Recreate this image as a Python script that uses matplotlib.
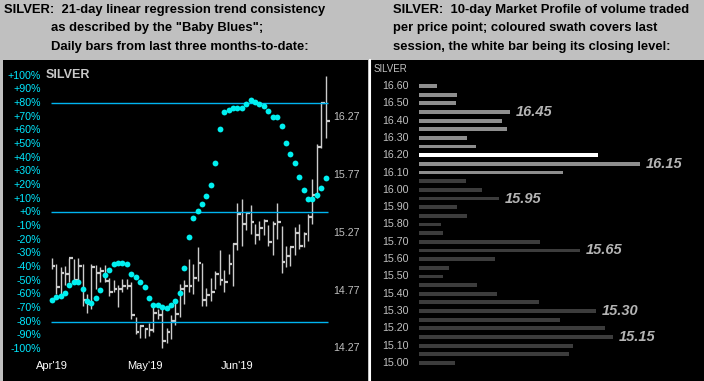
import matplotlib
matplotlib.use("Agg")
import matplotlib.pyplot as plt

W, H = 704, 381
GRAY = "#c0c0c0"
FONT = "Liberation Sans"

# --- left panel data: daily bars (price) + "Baby Blues" trend consistency (%) ---
highs = [15.05, 15.00, 14.97, 14.98, 15.05, 15.04, 15.05, 15.00, 14.74, 15.00,
         14.99, 14.97, 14.99, 14.88, 14.86, 14.82, 14.87, 14.87, 14.84, 14.54,
         14.47, 14.45, 14.49, 14.64, 14.61, 14.64, 14.45, 14.56, 14.68, 14.83,
         14.86, 15.04, 15.00, 15.15, 15.01, 14.79, 14.88, 14.94, 15.12, 14.95,
         15.09, 15.18, 15.53, 15.56, 15.45, 15.51, 15.35, 15.37, 15.39, 15.34,
         15.37, 15.53, 15.33, 15.16, 15.15, 15.32, 15.35, 15.28, 15.43, 15.74,
         16.04, 16.40, 16.63]
lows = [14.96, 14.74, 14.72, 14.82, 14.84, 14.85, 14.84, 14.64, 14.58, 14.61,
        14.78, 14.84, 14.84, 14.72, 14.76, 14.63, 14.76, 14.78, 14.52, 14.39,
        14.36, 14.36, 14.38, 14.41, 14.52, 14.27, 14.32, 14.35, 14.47, 14.54,
        14.65, 14.76, 14.74, 14.85, 14.64, 14.64, 14.68, 14.78, 14.82, 14.76,
        14.91, 14.81, 15.12, 15.16, 15.29, 15.26, 15.17, 15.21, 15.25, 15.16,
        15.08, 15.22, 14.92, 14.97, 14.98, 15.08, 15.13, 15.15, 15.20, 15.35,
        15.57, 16.00, 16.09]
closes = [14.98, 14.80, 14.92, 14.91, 15.05, 14.86, 14.98, 14.69, 14.65, 14.97,
          14.92, 14.94, 14.85, 14.76, 14.78, 14.78, 14.81, 14.81, 14.56, 14.41,
          14.46, 14.44, 14.43, 14.58, 14.56, 14.33, 14.41, 14.51, 14.57, 14.78,
          14.81, 14.81, 14.88, 15.01, 14.69, 14.73, 14.76, 14.91, 14.86, 14.84,
          15.00, 15.17, 15.43, 15.35, 15.44, 15.36, 15.25, 15.31, 15.37, 15.19,
          15.35, 15.36, 15.02, 15.07, 15.15, 15.27, 15.16, 15.26, 15.41, 15.60,
          16.01, 16.39, 16.24]
baby_blues = [-64, -62, -61, -59, -53, -51, -51, -56, -65, -66,
              -63, -57, -46, -42, -38, -37, -37, -38, -45, -47,
              -51, -55, -63, -68, -68, -69, -70, -68, -65, -59,
              -41, -18, -4, 1, 6, 12, 20, 36, 61, 73,
              75, 76, 76, 76, 79, 82, 81, 79, 78, 74,
              70, 70, 63, 51, 43, 36, 26, 16, 10, 10,
              13, 18, 25]
month_pos = [0, 21, 42]
month_labels = ["Apr'19", "May'19", "Jun'19"]
pct_ticks = list(range(-100, 101, 10))
price_ticks = [16.27, 15.77, 15.27, 14.77, 14.27]
ref_levels = [80, 0, -80]

# --- right panel data: 10-day market profile ---
mp_prices = [16.60, 16.55, 16.50, 16.45, 16.40, 16.35, 16.30, 16.25, 16.20, 16.15,
             16.10, 16.05, 16.00, 15.95, 15.90, 15.85, 15.80, 15.75, 15.70, 15.65,
             15.60, 15.55, 15.50, 15.45, 15.40, 15.35, 15.30, 15.25, 15.20, 15.15,
             15.10, 15.05, 15.00]
mp_volume = [18, 38, 37, 91, 83, 88, 48, 57, 179, 221,
             144, 47, 63, 80, 38, 48, 22, 24, 121, 161,
             76, 30, 24, 58, 78, 120, 177, 141, 186, 194,
             154, 150, 36]
session_lo, session_hi = 16.09, 16.63
last_close = 16.20
mp_callouts = [16.45, 16.15, 15.95, 15.65, 15.30, 15.15]

fig = plt.figure(figsize=(W / 100, H / 100), dpi=100, facecolor=GRAY)

def px(x, y):
    return x / W, 1 - y / H

# titles
t_kw = dict(fontsize=9.4, fontweight="bold", family=FONT, color="black", va="center")
fig.text(*px(4, 10), "SILVER:  21-day linear regression trend consistency", **t_kw)
fig.text(*px(51, 28), 'as described by the "Baby Blues";', **t_kw)
fig.text(*px(51, 47), "Daily bars from last three months-to-date:", **t_kw)
fig.text(*px(393, 10), "SILVER:  10-day Market Profile of volume traded", **t_kw)
fig.text(*px(393, 28), "per price point; coloured swath covers last", **t_kw)
fig.text(*px(393, 47), "session, the white bar being its closing level:", **t_kw)

# ---------------- left panel ----------------
axp = fig.add_axes([3 / W, 0, 365 / W, 321 / H], facecolor="black")
n = len(closes)
xs = list(range(n))
axp.vlines(xs, lows, highs, color="#cccccc", lw=1.0)
axp.hlines(closes, xs, [x + 0.85 for x in xs], color="#cccccc", lw=1.6)
axp.set_xlim(-11.02, 71.56)
axp.set_ylim(13.987, 16.766)

axc = axp.twinx()
axc.set_ylim(-123.4, 111.4)
axc.hlines(ref_levels, -0.1, n - 0.6, color="#00b4f0", lw=1.0)
axc.plot(xs, baby_blues, "o", color="#00f0f0", ms=4.2, mec="none")

for a in (axp, axc):
    a.set_xticks([])
    a.set_yticks([])
    for s in a.spines.values():
        s.set_visible(False)

ytr = axc.get_yaxis_transform()
for v in pct_ticks:
    lab = ("+" if v >= 0 else "") + f"{v}%"
    axc.text(0.104, v, lab, transform=ytr, ha="right", va="center",
             fontsize=7.7, family=FONT, color="#00e8ff")
ptr = axp.get_yaxis_transform()
for v in price_ticks:
    axp.text(0.906, v, f"{v:.2f}", transform=ptr, ha="left", va="center",
             fontsize=7.7, family=FONT, color=GRAY)
xtr = axp.get_xaxis_transform()
for p, lab in zip(month_pos, month_labels):
    axp.text(p, 0.047, lab, transform=xtr, ha="center", va="center",
             fontsize=8, family=FONT, color="white")
axp.text(0.117, 0.952, "SILVER", transform=axp.transAxes, ha="left", va="center",
         fontsize=9, fontweight="bold", family=FONT, color="#c8c8c8")

# ---------------- right panel ----------------
axr = fig.add_axes([370 / W, 0, 334 / W, 321 / H], facecolor="black")
colors = []
for p in mp_prices:
    if abs(p - last_close) < 1e-6:
        colors.append("white")
    elif session_lo <= p <= session_hi:
        colors.append("#8e8e8e")
    else:
        colors.append("#3c3c3c")
axr.barh(mp_prices, mp_volume, height=0.022, left=0, color=colors)
axr.set_xlim(-49.3, 284.7)
axr.set_ylim(14.896, 16.75)
axr.set_xticks([])
axr.set_yticks([])
for k, s in axr.spines.items():
    s.set_visible(k == "left")
axr.spines["left"].set_color("white")
axr.spines["left"].set_linewidth(1.5)

for p in mp_prices[::2]:
    axr.text(-10.3, p, f"{p:.2f}", ha="right", va="center",
             fontsize=7.7, family=FONT, color=GRAY)
for p, v in zip(mp_prices, mp_volume):
    if any(abs(p - c) < 1e-6 for c in mp_callouts):
        axr.text(v + 5, p, f"{p:.2f}", ha="left", va="center", fontsize=10.5,
                 fontweight="bold", style="italic", family=FONT, color="#b4b4b4")
axr.text(0.012, 0.972, "SILVER", transform=axr.transAxes, ha="left", va="center",
         fontsize=7, family=FONT, color=GRAY)

fig.savefig("out.png", dpi=100, facecolor=GRAY)
